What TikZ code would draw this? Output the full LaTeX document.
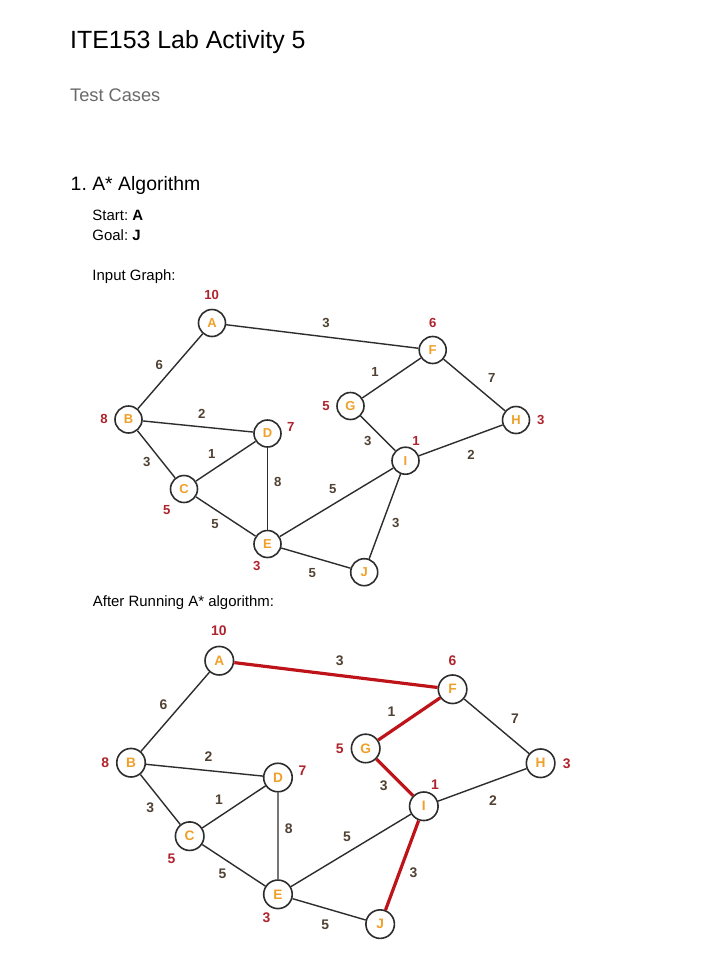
\documentclass[tikz,border=0pt]{standalone}
\usepackage{fontspec}
\setmainfont{Liberation Sans}
\frenchspacing
\definecolor{lettc}{RGB}{240,160,40}
\definecolor{hc}{RGB}{175,35,45}
\definecolor{wtc}{RGB}{80,65,50}
\definecolor{edgec}{RGB}{45,45,45}
\definecolor{pathc}{RGB}{190,20,25}
\definecolor{subc}{RGB}{105,105,105}
\tikzset{
  vtx/.style={circle, draw=edgec, line width=1.6bp, fill=white, minimum size=27bp, inner sep=0pt,
    font=\fontsize{13}{13}\selectfont\bfseries, text=lettc},
  edg/.style={draw=edgec, line width=1.4bp},
  redg/.style={draw=pathc, line width=3.2bp},
  wt/.style={font=\fontsize{13.2}{13.2}\selectfont\bfseries, text=wtc, inner sep=0pt},
  hv/.style={font=\fontsize{13.2}{13.2}\selectfont\bfseries, text=hc, inner sep=0pt},
  txt/.style={anchor=base west, inner sep=0pt},
}
\newcommand{\astargraph}[2]{%
  \node[vtx] (#1A) at (212,323) {A};
  \node[vtx] (#1B) at (128.5,419.5) {B};
  \node[vtx] (#1C) at (184,489) {C};
  \node[vtx] (#1D) at (267.5,433.5) {D};
  \node[vtx] (#1E) at (267.5,544) {E};
  \node[vtx] (#1F) at (432.7,350) {F};
  \node[vtx] (#1G) at (350.5,406) {G};
  \node[vtx] (#1H) at (516,420) {H};
  \node[vtx] (#1I) at (405.5,460.7) {I};
  \node[vtx] (#1J) at (364.2,572.2) {J};
  \draw[#2] (#1A) -- (#1F);
  \draw[edg] (#1A) -- (#1B);
  \draw[edg] (#1B) -- (#1D);
  \draw[edg] (#1B) -- (#1C);
  \draw[edg] (#1C) -- (#1D);
  \draw[edg] (#1D) -- (#1E);
  \draw[edg] (#1C) -- (#1E);
  \draw[edg] (#1E) -- (#1I);
  \draw[edg] (#1E) -- (#1J);
  \draw[#2] (#1F) -- (#1G);
  \draw[edg] (#1F) -- (#1H);
  \draw[#2] (#1G) -- (#1I);
  \draw[edg] (#1I) -- (#1H);
  \draw[#2] (#1I) -- (#1J);
  % weights
  \node[wt] (#1wAF) at (326,323.3) {3};
  \node[wt] (#1wAB) at (159.3,365) {6};
  \node[wt] (#1wBD) at (201.7,414) {2};
  \node[wt] (#1wBC) at (146.7,461.7) {3};
  \node[wt] (#1wCD) at (211.7,454.3) {1};
  \node[wt] (#1wDE) at (277.7,482.3) {8};
  \node[wt] (#1wCE) at (215,524.3) {5};
  \node[wt] (#1wEI) at (332.7,489.3) {5};
  \node[wt] (#1wEJ) at (312.3,572.7) {5};
  \node[wt] (#1wFG) at (375,371.7) {1};
  \node[wt] (#1wFH) at (491.7,378.3) {7};
  \node[wt] (#1wGI) at (367.7,441) {3};
  \node[wt] (#1wIH) at (471,455) {2};
  \node[wt] (#1wIJ) at (395.7,523.3) {3};
  % heuristics
  \node[hv] (#1hA) at (211.7,295) {10};
  \node[hv] (#1hB) at (104,419.3) {8};
  \node[hv] (#1hC) at (166.7,510) {5};
  \node[hv] (#1hD) at (290.7,426.7) {7};
  \node[hv] (#1hE) at (256.7,565.7) {3};
  \node[hv] (#1hG) at (326,406) {5};
  \node[hv] (#1hF) at (432.7,323.3) {6};
  \node[hv] (#1hH) at (540.7,420) {3};
  \node[hv] (#1hI) at (416,440.7) {1};
}
\begin{document}
\begin{tikzpicture}[x=1bp, y=-1bp]
  \useasboundingbox[fill=white] (0,0) rectangle (720,967);
  \node[txt, font=\fontsize{25}{25}\selectfont] (title) at (70,48.3) {ITE153 Lab Activity 5};
  \node[txt, font=\fontsize{18.3}{18.3}\selectfont, text=subc] (sub) at (70,101.7) {Test Cases};
  \node[txt, font=\fontsize{19.5}{19.5}\selectfont] (sec) at (70.5,190) {1. A* Algorithm};
  \node[txt, font=\fontsize{15}{15}\selectfont] (start) at (92.3,220.7) {Start: \textbf{A}};
  \node[txt, font=\fontsize{15}{15}\selectfont] (goal) at (92.3,240.3) {Goal: \textbf{J}};
  \node[txt, font=\fontsize{15}{15}\selectfont] (inp) at (92.3,280) {Input Graph:};
  \node[txt, font=\fontsize{15}{15}\selectfont] (after) at (92.7,606) {After Running A* algorithm:};
  \begin{scope}
    \astargraph{g}{edg}
  \end{scope}
  \begin{scope}[shift={(-4.8,319.3)}, scale=1.057, transform shape]
    \astargraph{r}{redg}
  \end{scope}
\end{tikzpicture}
\end{document}
